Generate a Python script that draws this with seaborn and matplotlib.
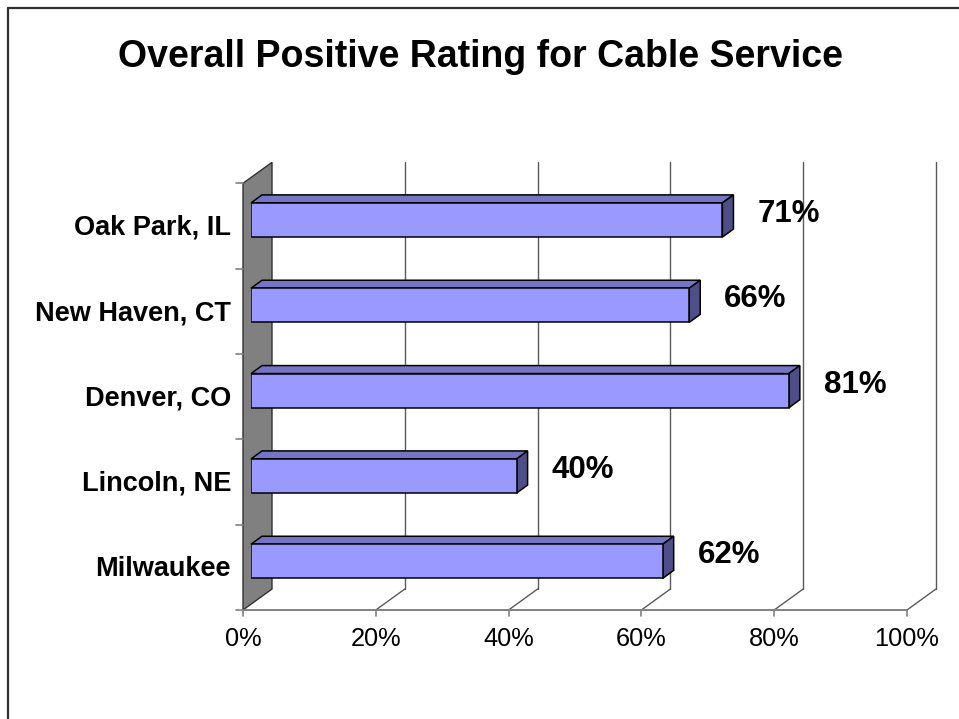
import matplotlib
matplotlib.use("Agg")
import matplotlib.pyplot as plt
from matplotlib.patches import Polygon
from matplotlib.lines import Line2D
import seaborn as sns
import pandas as pd

# Survey results
cities = ["Oak Park, IL", "New Haven, CT", "Denver, CO", "Lincoln, NE", "Milwaukee"]
ratings = [71, 66, 81, 40, 62]
tick_values = [0, 20, 40, 60, 80, 100]
tick_labels = ["0%", "20%", "40%", "60%", "80%", "100%"]
title = "Overall Positive Rating for Cable Service"

sns.set_theme(style="white")
plt.rcParams["font.family"] = ["Liberation Sans", "DejaVu Sans"]

W, H = 959, 719
fig = plt.figure(figsize=(W / 100, H / 100), dpi=100)
fig.patch.set_facecolor("white")

# axes = the plane of the bars' front faces
x0_px, x1_px = 251, 915
ytop_px, ybot_px = 177.3, 604
ax = fig.add_axes([x0_px / W, (H - ybot_px) / H, (x1_px - x0_px) / W, (ybot_px - ytop_px) / H])

df = pd.DataFrame({"city": cities, "rating": ratings})
sns.barplot(data=df, x="rating", y="city", order=cities, orient="h",
            color="#9999FF", saturation=1, width=0.4,
            edgecolor="black", linewidth=1.1, ax=ax, zorder=5)
ax.set_xlim(0, 100)
ax.set_ylim(len(cities) - 0.5, -0.5)
ax.axis("off")

# pixel -> data conversion for depth offsets (image y grows downward)
sx = 100 / (x1_px - x0_px)
sy = len(cities) / (ybot_px - ytop_px)


def depth(px, py):
    return px * sx, py * sy


FRONT = depth(-8, 6)
BACK = depth(21, -15)
BAR_BACK = depth(11, -8)
ymin, ymax = -0.5, len(cities) - 0.5


def pt(x, y, off):
    return (x + off[0], y + off[1])


grid_c = "#5a5a5a"
axis_c = "#808080"

# side wall
wall = Polygon([pt(0, ymax, FRONT), pt(0, ymin, FRONT), pt(0, ymin, BACK), pt(0, ymax, BACK)],
               closed=True, facecolor="#808080", edgecolor="#303030", linewidth=1.0,
               zorder=1, clip_on=False)
ax.add_patch(wall)

# back-wall gridlines and floor diagonals
for v in tick_values[1:]:
    ax.add_line(Line2D([pt(v, ymax, BACK)[0], pt(v, ymin, BACK)[0]],
                       [pt(v, ymax, BACK)[1], pt(v, ymin, BACK)[1]],
                       color=grid_c, lw=1.0, zorder=0, clip_on=False))
for v in tick_values[1:]:
    a, b = pt(v, ymax, FRONT), pt(v, ymax, BACK)
    ax.add_line(Line2D([a[0], b[0]], [a[1], b[1]], color=grid_c, lw=1.0, zorder=0, clip_on=False))

# front floor edge with ticks
a, b = pt(0, ymax, FRONT), pt(100, ymax, FRONT)
ax.add_line(Line2D([a[0], b[0]], [a[1], b[1]], color=axis_c, lw=1.4, zorder=2, clip_on=False))
tick_len = depth(0, 6)[1]
for v, lab in zip(tick_values, tick_labels):
    p = pt(v, ymax, FRONT)
    ax.add_line(Line2D([p[0], p[0]], [p[1], p[1] + tick_len], color=axis_c, lw=1.2,
                       zorder=2, clip_on=False))
    ax.text(p[0], p[1] + depth(0, 29)[1], lab, ha="center", va="center",
            fontsize=18.3, color="black", clip_on=False)

# category ticks on the wall edge and labels
tick_w = depth(7, 0)[0]
for i in range(len(cities) + 1):
    p = pt(0, ymin + i, FRONT)
    ax.add_line(Line2D([p[0] - tick_w, p[0]], [p[1], p[1]], color=axis_c, lw=1.2,
                       zorder=2, clip_on=False))
for i, c in enumerate(cities):
    p = pt(0, i, FRONT)
    ax.text(p[0] + depth(-12, 0)[0], p[1] + depth(0, 2)[1], c, ha="right", va="center",
            fontsize=19.5, fontweight="bold", color="black", clip_on=False)

# 3-D faces of each bar and value labels
half = 0.2
for i, v in enumerate(ratings):
    top = Polygon([(0, i - half), (v, i - half), pt(v, i - half, BAR_BACK), pt(0, i - half, BAR_BACK)],
                  closed=True, facecolor="#7575C6", edgecolor="black", linewidth=1.1,
                  zorder=4, clip_on=False)
    side = Polygon([(v, i - half), (v, i + half), pt(v, i + half, BAR_BACK), pt(v, i - half, BAR_BACK)],
                   closed=True, facecolor="#4E4E88", edgecolor="black", linewidth=1.1,
                   zorder=4, clip_on=False)
    ax.add_patch(top)
    ax.add_patch(side)
    ax.text(v + depth(35, 0)[0], i + depth(0, -6)[1], f"{v}%", ha="left", va="center",
            fontsize=22.5, fontweight="bold", color="black", clip_on=False, zorder=6)

fig.text(480 / W, 1 - 57 / H, title, ha="center", va="center",
         fontsize=27, fontweight="bold", color="black")

# chart area frame
fig.add_artist(Line2D([8 / W, 8 / W], [0, 1 - 8 / H], color="#303030", lw=1.6))
fig.add_artist(Line2D([8 / W, 1], [1 - 8 / H, 1 - 8 / H], color="#303030", lw=1.6))

fig.savefig("out.png", dpi=100)
